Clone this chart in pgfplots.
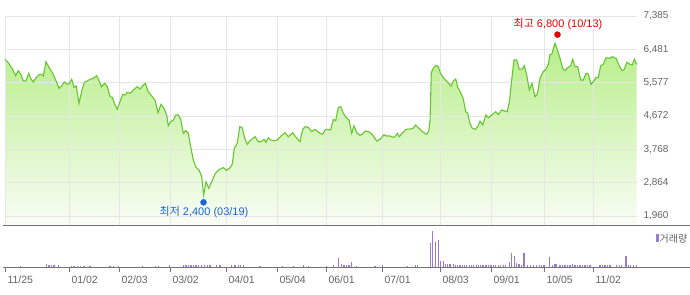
\documentclass[border=0pt]{standalone}
\usepackage{fontspec}
\setmainfont{Liberation Sans}
\newfontfamily\kr{Noto Sans CJK KR}
\usepackage{pgfplots}
\pgfplotsset{compat=1.18}
\usepackage{pgfplotstable}
\definecolor{linegreen}{RGB}{102,198,46}
\definecolor{filltop}{RGB}{184,238,138}
\definecolor{fillbot}{RGB}{249,253,245}
\definecolor{gridgray}{RGB}{230,230,230}
\definecolor{volpurple}{RGB}{150,125,205}
\definecolor{axisdark}{RGB}{115,115,120}
\definecolor{labgray}{RGB}{100,100,100}
\definecolor{hired}{RGB}{232,0,0}
\definecolor{loblue}{RGB}{25,100,215}

\pgfplotstableread{
x y
5 6210
8.3 6118
12.7 5939
15.7 5766
18.3 5901
21 5793
23.3 5630
25.7 5614
28.7 5831
31 5676
33.3 5595
36 5711
39.3 5793
41.7 5804
43.3 5758
46 6145
49 5994
52.7 5831
55.7 5649
59 5424
61.7 5494
64.3 5595
66.7 5541
69 5541
71.7 5668
74 5451
76.3 5486
79 5017
82 5378
84.3 5587
86.7 5614
90 5668
93.3 5695
96.7 5766
99 5630
101.3 5467
104.7 5560
107.3 5467
110 5196
112.3 5180
115 4971
117.3 4854
120 5060
122.7 5261
125 5242
127.3 5315
130 5288
133.3 5378
137.3 5467
140 5405
142.7 5494
145.3 5560
148.3 5332
151.7 5215
155 5107
158 4762
161 4990
164 4881
166.7 4700
168.3 4409
170.7 4518
173.3 4564
176 4700
178.3 4700
180.7 4583
183.3 4203
185.7 4274
188.3 4203
190.7 3840
193.3 3479
196 3281
199 3208
201.7 3026
203.7 2530
206 2890
208.7 2711
211.7 2890
215 3099
218.3 3208
223.3 3270
226.7 3200
230 3270
232.3 3370
234.3 3796
237.3 3932
239.7 4382
242 4366
244.7 4068
247.3 3905
250 4002
255 4111
258.3 3975
261 3975
264 4040
266 3959
268.3 4084
270.7 4021
274 4002
277.3 4021
281 4130
285 4219
288.3 4111
292.7 4219
296.7 4068
300 3975
302.7 4312
305.3 4382
308.3 4366
311.7 4247
315 4312
318.3 4238
320 4203
322.7 4176
325 4293
327.3 4312
330.7 4293
333.3 4583
335.7 4545
338.3 4908
340.7 4925
343.3 4746
346 4637
349 4564
351.7 4203
354 4409
356.7 4219
360 4149
362.7 4184
365.3 4266
368.7 4247
371.7 4184
374.3 4095
376.7 3994
380 4040
384 4165
386.7 4130
390 4130
392.7 4095
395 4111
397.3 4203
399.3 4111
402.7 4219
406 4312
410 4320
412.7 4328
415.7 4428
419 4339
423.3 4230
426.7 4176
428.7 4266
430 4518
431.3 5847
433.3 5966
436 6048
438.3 6010
440.7 5812
444 5695
447.7 5587
451 5486
453.3 5622
455.7 5676
457.7 5451
461 5288
463.3 5134
465.7 4789
467.7 4746
470 4474
472.3 4339
475.3 4312
477.7 4382
480 4530
482.7 4428
486 4705
488.3 4626
491.7 4700
495.7 4789
498.3 4711
501.7 4835
505 4808
507.3 4789
509.3 5044
511.7 5649
514 6192
516.7 6192
519.3 5939
522.3 5947
524.3 6037
526.7 5785
529.3 5378
532 5560
535 5196
537.3 5261
540 5695
542.7 5858
546 5947
548.3 6075
550 6346
551.7 6346
555 6644
557.7 6436
560 6238
562.7 5966
565 5901
567.7 5983
570.7 6037
572.7 6210
575 6010
577.7 6010
580.7 5649
583.3 5649
586 5831
588.3 5812
591 5532
593.3 5603
596 5711
598.3 5722
600.7 6037
603.3 6075
606 6254
609.3 6238
612.3 6281
616 6238
619.3 6029
622 5901
624.3 5939
626.7 6129
630 6075
632.3 6056
634.3 6210
636.7 6075
}\price

\pgfplotstableread{
x v
20.7 0.7
46.3 2.3
49 1
51.7 1
54 1
58.3 1
71.7 0.7
74 0.7
77.3 0.7
80.7 0.7
84 0.7
90 0.7
110 0.7
113.3 0.7
118.3 0.7
142.7 0.7
155.3 0.7
158.3 0.7
169.3 1
183.3 1
186 1
188.3 1
191 1
193.3 1
196 1
198.7 1
201.7 1
204.3 1
207.3 1
210 1
216.7 1
220 1
231.7 1.3
235 1.3
238.3 1.7
240.7 1.3
243.3 1.3
260 0.7
282.7 0.7
293.3 0.7
303.3 1.3
308.3 0.7
326.7 0.7
333.3 1.3
338.3 8.3
341.7 2.3
344 1.7
346.7 1.7
349 1.7
351.7 4
356.7 0.7
375 0.7
382.3 1
407.3 0.7
415.7 1
417.3 1
430.3 23.3
432.3 35.7
435.3 24.3
438.7 26.7
440.3 5.3
443.3 5.3
445.3 2.3
447.7 2
450 2
453.3 2.3
455.3 1.7
457.3 1.7
460 1
462.7 1
464.3 1
466.7 1.3
469.3 1.5
471.3 1.5
473.7 1
476.3 1
478.7 1
480.7 1
483 1
486 1.3
488.3 1
491 1
493.3 1
495.7 1
498.3 1
500.7 1
503.3 1
505.3 1
509.3 4
511.7 13.3
514.3 10.3
516.3 3.3
519 2.3
521.7 1.5
524 13.3
527.7 1.5
530.7 1.5
533.3 1.5
536.7 1.5
539.3 1.5
541.3 1.5
544 1.5
549.7 9.3
552.3 1.5
555 2.3
556.7 2.3
560 1.7
562.3 1.5
565 1.5
567.7 1.3
570 1.3
572.3 2.3
575 1
577.7 1
580 1
582.7 1
585 1
587.7 1
590 1
600 1
602.7 1
605 1
607.7 1
610 1
616.7 1
619.3 1
621.7 1
626 10.3
628.3 1
630.7 1
633.3 1
636.7 1
}\volume

\begin{document}
\begin{tikzpicture}
% ---------- price panel ----------
\begin{axis}[
  at={(5bp,70bp)}, anchor=south west,
  scale only axis, width=632bp, height=209bp,
  xmin=5, xmax=637, ymin=1716, ymax=7385,
  set layers, clip mode=individual,
  axis line style={draw=none},
  xtick={5,69,119,170,226,277,326,382,440,491,544,593},
  xticklabels={},
  ytick={1960,2864,3768,4672,5577,6481,7385},
  yticklabel pos=right,
  major tick length=0pt,
  grid=major, grid style={gridgray, line width=0.9bp},
  yticklabel style={font=\fontsize{10bp}{12bp}\selectfont, text=labgray, xshift=3bp},
  /pgf/number format/assume math mode=true,
  /pgf/number format/1000 sep={,},
]
\addplot[on layer=axis background, draw=none, top color=filltop, bottom color=fillbot]
  table[x=x,y=y] {\price} |- (axis cs:5,1716) -- cycle;
\addplot[linegreen, line width=1.1bp, mark=none] table[x=x,y=y] {\price};
\addplot[only marks, mark=*, mark size=3bp, hired, mark options={draw=hired, fill=hired}]
  coordinates {(557.5,6880)};
\addplot[only marks, mark=*, mark size=3bp, loblue, mark options={draw=loblue, fill=loblue}]
  coordinates {(203.5,2332)};
\node[text=hired, font=\fontsize{11bp}{13bp}\selectfont, inner sep=0pt]
  at (axis cs:558,7168) {{\kr 최고} 6,800 (10/13)};
\node[text=loblue, font=\fontsize{11bp}{13bp}\selectfont, inner sep=0pt]
  at (axis cs:204,2068) {{\kr 최저} 2,400 (03/19)};
\end{axis}
% ---------- volume panel ----------
\begin{axis}[
  at={(5bp,28bp)}, anchor=south west,
  scale only axis, width=632bp, height=41bp,
  xmin=5, xmax=637, ymin=0, ymax=41,
  clip mode=individual,
  axis line style={draw=none},
  ytick=\empty,
  xtick={5,69,119,170,226,277,326,382,440,491,544,593},
  xticklabels={11/25,01/02,02/03,03/02,04/01,05/04,06/01,07/01,08/03,09/01,10/05,11/02},
  xtick pos=bottom, tick align=outside,
  major tick length=5bp,
  tick style={axisdark, line width=0.9bp},
  xticklabel style={anchor=north west, font=\fontsize{10.5bp}{12bp}\selectfont, text=labgray, xshift=-1bp},
]
\addplot[ycomb, volpurple, line width=1.1bp, mark=none] table[x=x,y expr=\thisrow{v}+0.6] {\volume};
\node[anchor=west, inner sep=0pt, font=\fontsize{10bp}{12bp}\selectfont, text=labgray]
  at (rel axis cs:1.030,0.70) {\textcolor{volpurple}{\rule{2.5bp}{8bp}}\kern1bp{\kr 거래량}};
\end{axis}
\draw[axisdark, line width=1bp] (3bp,69.5bp) -- (690bp,69.5bp);
\draw[axisdark, line width=0.9bp] (3bp,27.7bp) -- (690bp,27.7bp);
\pgfresetboundingbox
\useasboundingbox (0,0) rectangle (690bp,295bp);
\end{tikzpicture}
\end{document}
